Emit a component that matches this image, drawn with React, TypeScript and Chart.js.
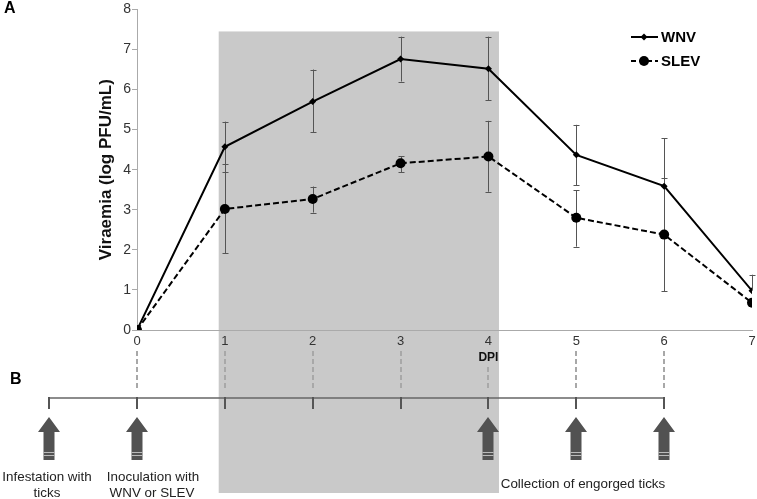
import React, { useEffect, useRef } from "react";
import { Chart, registerables } from "chart.js";

Chart.register(...registerables);

const days = [0, 1, 2, 3, 4, 5, 6, 7];
const wnv = [0, 4.57, 5.7, 6.76, 6.52, 4.37, 3.59, 0.98];
const wnvLow = [null, 3.94, 4.93, 6.2, 5.73, 3.61, 2.4, null];
const wnvHigh = [null, 5.2, 6.5, 7.32, 7.32, 5.12, 4.78, 1.38];
const slev = [0, 3.02, 3.27, 4.16, 4.33, 2.8, 2.38, 0.68];
const slevLow = [null, 1.91, 2.93, 3.94, 3.45, 2.08, 0.97, null];
const slevHigh = [null, 4.13, 3.58, 4.34, 5.22, 3.49, 3.8, null];
const yTicks = [0, 1, 2, 3, 4, 5, 6, 7, 8];
const seriesNames = ["WNV", "SLEV"];
const shadedRange = [0.93, 4.12, 7.45];
const timelineDays = [-1, 0, 1, 2, 3, 4, 5, 6];
const arrowDays = [-1, 0, 4, 5, 6];
const dashedDays = [0, 1, 2, 3, 4, 5, 6];

const FONT = "'Liberation Sans', Arial, Helvetica, sans-serif";

export default function App() {
  const ref = useRef<HTMLCanvasElement | null>(null);

  useEffect(() => {
    document.body.style.margin = "0";
    const canvas = ref.current;
    if (!canvas) return;

    const shadePlugin = {
      id: "shade",
      beforeDraw(chart: any) {
        const { ctx, scales } = chart;
        const x = scales.x;
        const y = scales.y;
        const x0 = x.getPixelForValue(shadedRange[0]);
        const x1 = x.getPixelForValue(shadedRange[1]);
        const y0 = y.getPixelForValue(shadedRange[2]);
        ctx.save();
        ctx.fillStyle = "#c9c9c9";
        ctx.fillRect(x0, y0, x1 - x0, 493 - y0);
        ctx.restore();
      },
    };

    const errorPlugin = {
      id: "errbars",
      beforeDatasetsDraw(chart: any) {
        const { ctx, scales } = chart;
        const x = scales.x;
        const y = scales.y;
        ctx.save();
        ctx.strokeStyle = "#555";
        ctx.lineWidth = 1;
        const drawBar = (i: number, v: number, lo: number | null, hi: number | null) => {
          const px = Math.round(x.getPixelForValue(days[i])) + 0.5;
          const pv = y.getPixelForValue(v);
          const pts: number[] = [];
          if (hi != null) pts.push(y.getPixelForValue(hi));
          if (lo != null) pts.push(y.getPixelForValue(lo));
          ctx.beginPath();
          if (hi != null) {
            ctx.moveTo(px, pv);
            ctx.lineTo(px, y.getPixelForValue(hi));
          }
          if (lo != null) {
            ctx.moveTo(px, pv);
            ctx.lineTo(px, y.getPixelForValue(lo));
          }
          pts.forEach((p) => {
            const yy = Math.round(p) + 0.5;
            ctx.moveTo(px - 3, yy);
            ctx.lineTo(px + 3, yy);
          });
          ctx.stroke();
        };
        days.forEach((_, i) => {
          drawBar(i, wnv[i], wnvLow[i], wnvHigh[i]);
          drawBar(i, slev[i], slevLow[i], slevHigh[i]);
        });
        ctx.restore();
      },
    };

    const extrasPlugin = {
      id: "extras",
      afterDraw(chart: any) {
        const { ctx, scales } = chart;
        const x = scales.x;
        ctx.save();
        // Panel letters
        ctx.fillStyle = "#000";
        ctx.font = `bold 16px ${FONT}`;
        ctx.textAlign = "left";
        ctx.textBaseline = "middle";
        ctx.fillText("A", 4, 9);
        ctx.fillText("B", 10, 380);

        // Legend
        const legY = [37, 61];
        seriesNames.forEach((name, i) => {
          const yy = legY[i];
          ctx.strokeStyle = "#000";
          ctx.lineWidth = 2;
          ctx.setLineDash(i === 0 ? [] : [5, 3]);
          ctx.beginPath();
          ctx.moveTo(631, yy);
          ctx.lineTo(658, yy);
          ctx.stroke();
          ctx.setLineDash([]);
          ctx.fillStyle = "#000";
          ctx.beginPath();
          if (i === 0) {
            ctx.moveTo(644, yy - 3.5);
            ctx.lineTo(647.5, yy);
            ctx.lineTo(644, yy + 3.5);
            ctx.lineTo(640.5, yy);
            ctx.closePath();
          } else {
            ctx.arc(644, yy, 5, 0, Math.PI * 2);
          }
          ctx.fill();
          ctx.font = `bold 15px ${FONT}`;
          ctx.textAlign = "left";
          ctx.textBaseline = "middle";
          ctx.fillText(name, 661, yy + 1);
        });

        // DPI label
        ctx.fillStyle = "#111";
        ctx.font = `bold 12px ${FONT}`;
        ctx.textAlign = "center";
        ctx.fillText("DPI", x.getPixelForValue(4), 358);

        // dashed vertical connectors
        ctx.strokeStyle = "#a8a8a8";
        ctx.lineWidth = 2;
        ctx.setLineDash([5, 3]);
        dashedDays.forEach((d) => {
          const px = Math.round(x.getPixelForValue(d));
          ctx.beginPath();
          ctx.moveTo(px, d === 4 ? 367 : 351);
          ctx.lineTo(px, 388);
          ctx.stroke();
        });
        ctx.setLineDash([]);

        // timeline
        const tx0 = x.getPixelForValue(timelineDays[0]);
        const tx1 = x.getPixelForValue(timelineDays[timelineDays.length - 1]);
        ctx.strokeStyle = "#666";
        ctx.lineWidth = 1.5;
        ctx.beginPath();
        ctx.moveTo(tx0, 398);
        ctx.lineTo(tx1, 398);
        ctx.stroke();
        ctx.strokeStyle = "#555";
        ctx.lineWidth = 2;
        timelineDays.forEach((d) => {
          const px = Math.round(x.getPixelForValue(d));
          ctx.beginPath();
          ctx.moveTo(px, 397);
          ctx.lineTo(px, 409);
          ctx.stroke();
        });

        // arrows
        arrowDays.forEach((d) => {
          const cx = Math.round(x.getPixelForValue(d));
          ctx.fillStyle = "#525252";
          ctx.beginPath();
          ctx.moveTo(cx, 417);
          ctx.lineTo(cx + 11, 432);
          ctx.lineTo(cx + 5.5, 432);
          ctx.lineTo(cx + 5.5, 460);
          ctx.lineTo(cx - 5.5, 460);
          ctx.lineTo(cx - 5.5, 432);
          ctx.lineTo(cx - 11, 432);
          ctx.closePath();
          ctx.fill();
          ctx.fillStyle = "#bbb";
          ctx.fillRect(cx - 5.5, 452, 11, 1);
          ctx.fillRect(cx - 5.5, 455, 11, 1);
        });

        // annotations
        ctx.fillStyle = "#222";
        ctx.font = `13.4px ${FONT}`;
        ctx.textAlign = "center";
        ctx.textBaseline = "middle";
        ctx.fillText("Infestation with", 47, 477);
        ctx.fillText("ticks", 47, 493);
        ctx.fillText("Inoculation with", 153, 477);
        ctx.fillText("WNV or SLEV", 152, 493);
        ctx.fillText("Collection of engorged ticks", 583, 484);
        ctx.restore();
      },
    };

    const chart = new Chart(canvas, {
      type: "line",
      data: {
        datasets: [
          {
            label: seriesNames[0],
            data: days.map((d, i) => ({ x: d, y: wnv[i] })),
            borderColor: "#000",
            backgroundColor: "#000",
            borderWidth: 2,
            pointStyle: "rectRot",
            pointRadius: 3.5,
            pointBorderWidth: 0,
            tension: 0,
          },
          {
            label: seriesNames[1],
            data: days.map((d, i) => ({ x: d, y: slev[i] })),
            borderColor: "#000",
            backgroundColor: "#000",
            borderWidth: 2,
            borderDash: [6, 3],
            pointStyle: "circle",
            pointRadius: 5,
            pointBorderWidth: 0,
            tension: 0,
          },
        ],
      },
      options: {
        animation: false,
        responsive: false,
        events: [],
        layout: { padding: { top: 7, right: 5, left: 0, bottom: 0 } },
        plugins: {
          legend: { display: false },
          tooltip: { enabled: false },
        },
        scales: {
          x: {
            type: "linear",
            min: 0,
            max: 7,
            afterFit: (s: any) => {
              s.height = 169;
            },
            border: { color: "#aaa", width: 1 },
            grid: { display: false },
            ticks: {
              stepSize: 1,
              padding: -4,
              color: "#333",
              font: { family: FONT, size: 13 },
            },
          },
          y: {
            min: 0,
            max: 8,
            afterFit: (s: any) => {
              s.width = 137;
            },
            afterBuildTicks: (s: any) => {
              s.ticks = yTicks.map((v) => ({ value: v }));
            },
            border: { color: "#aaa", width: 1 },
            grid: {
              display: true,
              drawOnChartArea: false,
              drawTicks: true,
              tickLength: 5,
              color: "#aaa",
            },
            ticks: {
              padding: 1,
              color: "#333",
              font: { family: FONT, size: 14 },
            },
            title: {
              display: true,
              text: "Viraemia (log PFU/mL)",
              color: "#111",
              font: { family: FONT, size: 17, weight: "bold" },
              padding: { top: 96, bottom: 0 },
            },
          },
        },
      },
      plugins: [shadePlugin, errorPlugin, extrasPlugin],
    });

    return () => chart.destroy();
  }, []);

  return (
    <div style={{ position: "fixed", left: 0, top: 0, width: 757, height: 499, background: "#fff" }}>
      <canvas ref={ref} width={757} height={499} />
    </div>
  );
}
